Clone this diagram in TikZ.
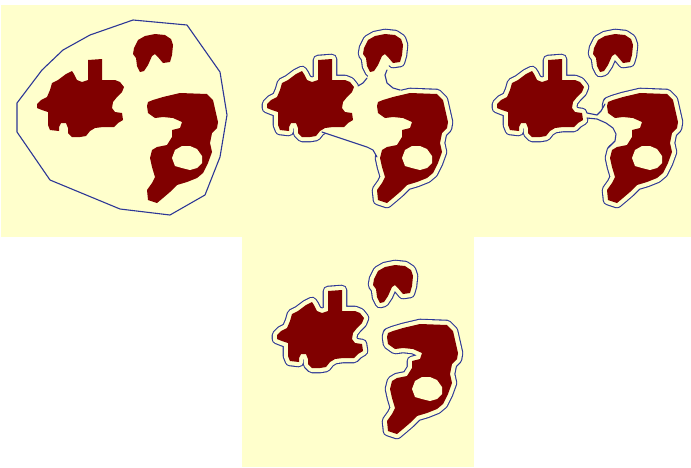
\documentclass[tikz,border=0pt]{standalone}
\begin{document}
\definecolor{bg}{RGB}{255,255,204}
\definecolor{blobc}{RGB}{128,0,0}
\definecolor{rim}{RGB}{45,55,150}
\def\pA{(88,60) -- (102,59) -- (102,80) -- (115,80) -- (120,82) -- (124,87) -- (122,92) -- (117,97) -- (113,102) -- (112,108) -- (115,112) -- (122,113) -- (123,120) -- (118,123) -- (114,127) -- (103,127) -- (95,128) -- (90,131) -- (86,136) -- (80,137) -- (72,137) -- (68,133) -- (68,128) -- (66,123) -- (61,123) -- (59,127) -- (59,131) -- (50,130) -- (48,125) -- (48,117) -- (48,112) -- (42,110) -- (37,108) -- (37,104) -- (41,100) -- (47,97) -- (50,90) -- (52,83) -- (58,80) -- (66,74) -- (72,71) -- (74,74) -- (77,80) -- (82,82) -- (88,80) -- cycle}
\def\pB{(138,40) -- (145,36) -- (155,34) -- (165,35) -- (171,39) -- (173,45) -- (172,55) -- (170,62) -- (163,63) -- (158,57) -- (155,54) -- (152,56) -- (148,65) -- (144,71) -- (140,72) -- (137,66) -- (136,58) -- (133,54) -- (134,48) -- cycle}
\def\pC{(148,102) -- (153,100) -- (163,97) -- (180,93) -- (207,94) -- (213,100) -- (218,122) -- (217,128) -- (212,133) -- (210,143) -- (212,152) -- (208,163) -- (203,173) -- (197,178) -- (187,182) -- (177,185) -- (170,192) -- (163,198) -- (157,203) -- (148,200) -- (147,190) -- (152,183) -- (155,177) -- (152,167) -- (150,158) -- (152,150) -- (157,147) -- (167,145) -- (172,137) -- (172,130) -- (180,128) -- (182,122) -- (173,118) -- (163,117) -- (155,118) -- (148,113) -- (147,106) -- cycle}
\def\pH{(172,158) -- (175,150) -- (182,146) -- (190,146) -- (197,149) -- (202,156) -- (202,163) -- (197,168) -- (190,170) -- (182,168) -- (175,166) -- cycle}
\tikzset{
  outerband/.style={draw=rim, fill=rim, line width=10.6pt, line join=round},
  innerband/.style={draw=bg, fill=bg, line width=8.4pt, line join=round},
  rimline/.style={draw=rim, line width=1.1pt, line join=round, line cap=round},
  blobfill/.style={fill=blobc},
  holefill/.style={fill=bg},
}
\begin{tikzpicture}[x=1pt, y=-1pt]
\useasboundingbox (0,0) rectangle (691,467);
\fill[white] (0,0) rectangle (691,467);
\fill[bg] (1,5) rectangle (691,237);
\fill[bg] (242,237) rectangle (474,467);
% panel 1: convex hull
\begin{scope}
\draw[rimline] (133,20) -- (187,25) -- (220,72) -- (227,115) -- (220,157) -- (205,195) -- (170,215) -- (120,209) -- (50,180) -- (17,132) -- (17,103) -- (42,70) -- (63,50) -- (90,35) -- cycle;
\path[blobfill] \pA; \path[blobfill] \pB; \path[blobfill] \pC; \path[holefill] \pH;
\end{scope}
% panel 2: concave outline
\begin{scope}[shift={(230,0)}]
\path[outerband] \pA; \path[outerband] \pB; \path[outerband] \pC;
\path[innerband] \pA; \path[innerband] \pB; \path[innerband] \pC;
\fill[bg] (128,86) -- (133,83) -- (137,78) -- (143,68) -- (149,60) -- (156,58) -- (160,62) -- (157,70) -- (155,75) -- (157,83) -- (163,88) -- (170,90) -- (195,105) -- (190,135) -- (165,152) -- (150,162) -- (147,157) -- (143,150) -- (137,147) -- (92,132) -- (105,120) -- (115,97) -- (122,88) -- cycle;
\draw[rimline] (128,86) -- (133,83) -- (137,78);
\draw[rimline] (157,70) -- (155,75) -- (157,83) -- (163,88) -- (170,90);
\draw[rimline] (147,157) -- (143,150) -- (137,147) -- (92,132);
\path[blobfill] \pA; \path[blobfill] \pB; \path[blobfill] \pC; \path[holefill] \pH;
\end{scope}
% panel 3: bridge between A and C
\begin{scope}[shift={(460,0)}]
\path[outerband] \pA; \path[outerband] \pB; \path[outerband] \pC;
\path[innerband] \pA; \path[innerband] \pB; \path[innerband] \pC;
\fill[bg] (127,113) -- (137,115) -- (141,111) -- (145,104) -- (155,103) -- (178,108) -- (188,122) -- (176,134) -- (160,146) -- (148,148) -- (155,141) -- (156,134) -- (153,128) -- (146,123) -- (137,119) -- (127,118) -- (119,116) -- cycle;
\draw[rimline] (127,113) -- (137,115) -- (141,111) -- (145,104);
\draw[rimline] (127,118) -- (137,119) -- (146,123) -- (153,128) -- (156,134) -- (155,141) -- (148,148);
\path[blobfill] \pA; \path[blobfill] \pB; \path[blobfill] \pC; \path[holefill] \pH;
\end{scope}
% panel 4: separate offsets
\begin{scope}[shift={(240,231)}]
\path[outerband] \pA; \path[outerband] \pB; \path[outerband] \pC;
\path[innerband] \pA; \path[innerband] \pB; \path[innerband] \pC;
\path[blobfill] \pA; \path[blobfill] \pB; \path[blobfill] \pC; \path[holefill] \pH;
\end{scope}
\end{tikzpicture}
\end{document}
